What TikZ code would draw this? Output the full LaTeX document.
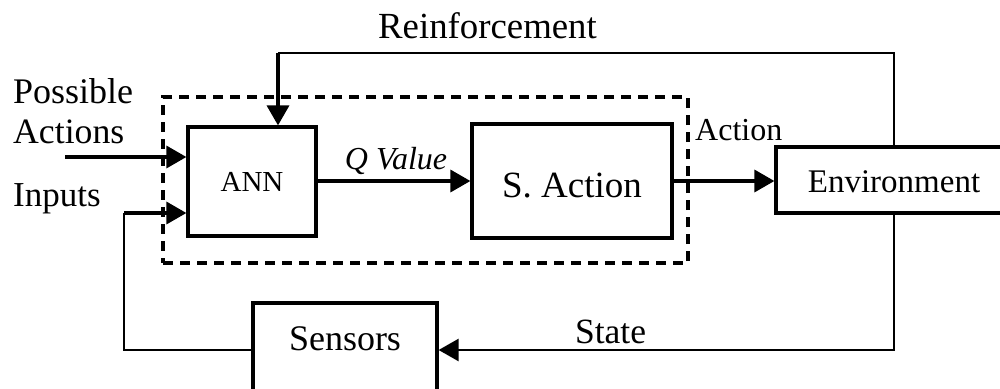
\documentclass[tikz,border=0pt]{standalone}
\usepackage{fontspec}
\setmainfont{Liberation Serif}
\usetikzlibrary{arrows.meta}
\newcommand\setfs[1]{\fontsize{#1pt}{#1pt}\selectfont}
\tikzset{
  block/.style={draw, line width=3.2pt, rectangle, inner sep=0pt, fill=white},
  groupbox/.style={draw, line width=3.1pt, dash pattern=on 10pt off 7pt, rectangle, inner sep=0pt},
  tip/.style={-{Triangle[length=20pt,width=22pt]}},
  flow/.style={line width=3.4pt, tip},
  wire/.style={line width=2.6pt},
}
\begin{document}
\begin{tikzpicture}[x=1pt,y=-1pt]
  \useasboundingbox (0,0) rectangle (1000,388);
  \fill[white] (0,0) rectangle (1000,388);
  \clip (0,0) rectangle (1000,388);

  % controller group
  \node[groupbox, minimum width=525pt, minimum height=166pt] (group) at (425.5,180) {};

  % blocks
  \node[block, minimum width=128pt, minimum height=109pt, text height=19pt, text depth=0pt]
    (ann) at (252,181.5) {\setfs{29}ANN};
  \node[block, minimum width=200pt, minimum height=114pt, text height=32pt, text depth=0pt]
    (sel) at (572,181) {\setfs{37}S. Action};
  \node[block, minimum width=236pt, minimum height=66pt, text height=24pt, text depth=0pt]
    (env) at (894,180) {\setfs{33}Environment};
  \node[block, minimum width=184pt, minimum height=94pt, text height=0pt, text depth=0pt]
    (sens) at (345,350) {\setfs{36}Sensors};

  % free labels
  \node[inner sep=0pt, anchor=base] (lrein) at (487.5,38) {\setfs{36.8}Reinforcement};
  \node[inner sep=0pt, anchor=base west] (lposs) at (13,103) {\setfs{36}Possible};
  \node[inner sep=0pt, anchor=base west] (lacts) at (13,143) {\setfs{35.7}Actions};
  \node[inner sep=0pt, anchor=base west] (linp) at (13,206) {\setfs{35}Inputs};
  \node[inner sep=0pt, anchor=base] (lq) at (396,169) {\setfs{32}\itshape Q Value};
  \node[inner sep=0pt, anchor=base west] (lact) at (695,140) {\setfs{32}Action};
  \node[inner sep=0pt, anchor=base] (lstate) at (610.5,343) {\setfs{35.5}State};

  % connector end points
  \coordinate (paStart) at (65,157);
  \coordinate (inCorner) at (124,213);
  \coordinate (reinCorner) at (278,53);

  % possible actions and inputs into the network
  \draw[flow] (paStart) -- (paStart -| ann.west);
  \draw[wire] (sens.west) -| (inCorner);
  \draw[flow] (inCorner) -- (inCorner -| ann.west);

  % Q value to action selection, action to environment
  \draw[flow] (ann.east |- sel.west) -- (sel.west);
  \draw[flow] (sel.east) -- (sel.east -| env.west);

  % reinforcement loop
  \draw[wire] (env.north) |- (reinCorner);
  \draw[flow] (reinCorner) -- (reinCorner |- ann.north);

  % state feedback to sensors
  \draw[wire, tip] (env.south) |- (sens.east);
\end{tikzpicture}
\end{document}
